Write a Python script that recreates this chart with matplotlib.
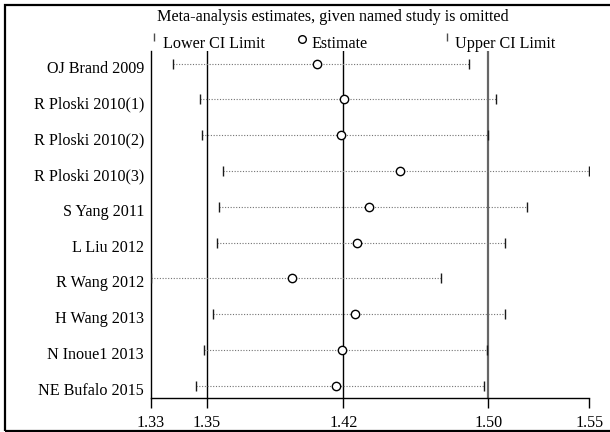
import matplotlib
matplotlib.use("Agg")
import matplotlib.pyplot as plt
import matplotlib.transforms as mtransforms
from matplotlib.patches import Rectangle
from matplotlib.lines import Line2D

studies = ["OJ Brand 2009", "R Ploski 2010(1)", "R Ploski 2010(2)", "R Ploski 2010(3)",
           "S Yang 2011", "L Liu 2012", "R Wang 2012", "H Wang 2013",
           "N Inoue1 2013", "NE Bufalo 2015"]
estimate = [1.4093, 1.4230, 1.4215, 1.4510, 1.4356, 1.4297, 1.3967, 1.4287, 1.4220, 1.4192]
lower_ci = [1.3369, 1.3508, 1.3515, 1.3620, 1.3602, 1.3593, 1.3260, 1.3573, 1.3526, 1.3488]
upper_ci = [1.4859, 1.4993, 1.4953, 1.5464, 1.5152, 1.5041, 1.4717, 1.5041, 1.4949, 1.4933]
overall = [1.3540, 1.4227, 1.4956]  # lower, estimate, upper

plt.rcParams['font.family'] = ['Liberation Serif', 'DejaVu Serif']
FS = 11.6

fig = plt.figure(figsize=(6.1, 4.32), dpi=100)
ax = fig.add_axes([151/610, 1-398/432, (589.3-151)/610, (398-51)/432])

n = len(studies)
ypos = list(range(1, n + 1))
xmin = min(lower_ci)
xmax = max(upper_ci)

# overall reference lines
ax.axvline(overall[0], color='black', lw=1.0, zorder=1)
ax.axvline(overall[1], color='black', lw=1.0, zorder=1)
ax.axvline(overall[2], color='0.4', lw=1.6, zorder=1)

for y, lo, est, hi in zip(ypos, lower_ci, estimate, upper_ci):
    ax.plot([lo, hi], [y, y], linestyle=(0, (1, 1.5)), color='0.45', lw=0.8, zorder=2)
ax.plot(lower_ci, ypos, linestyle='none', marker='|', markersize=7, mew=1.0, color='0.1', zorder=3)
ax.plot(upper_ci, ypos, linestyle='none', marker='|', markersize=7, mew=1.0, color='0.1', zorder=3)
ax.plot(estimate, ypos, linestyle='none', marker='o', markersize=6, mfc='white', mec='black', mew=1.0, zorder=4)

ax.set_xlim(xmin, xmax)
ax.set_ylim(n + 0.34, 0.65)
ticks = [xmin, overall[0], overall[1], overall[2], xmax]
ax.set_xticks(ticks)
ax.set_xticklabels([f"{t:.2f}" for t in ticks], fontsize=FS)
ax.tick_params(axis='x', direction='out', length=7, width=1, pad=5)
ax.set_yticks(ypos)
ax.set_yticklabels(studies, fontsize=FS)
ax.tick_params(axis='y', length=0, pad=5)
offset = mtransforms.ScaledTranslation(0, -3/100, fig.dpi_scale_trans)
for lab in ax.get_yticklabels():
    lab.set_transform(lab.get_transform() + offset)
ax.spines['top'].set_visible(False)
ax.spines['right'].set_visible(False)
ax.spines['left'].set_linewidth(1.0)
ax.spines['bottom'].set_linewidth(1.0)

# legend / header
fig.text(333/610, 1-17/432, "Meta-analysis estimates, given named study is omitted",
         ha='center', va='center', fontsize=FS)
ly = 1 - 44/432
fig.add_artist(Line2D([154.3/610], [1-37/432], marker='|', markersize=6, mew=1.0,
                      color='0.3', linestyle='none', transform=fig.transFigure))
fig.text(163/610, ly, "Lower CI Limit", ha='left', va='center', fontsize=FS)
fig.add_artist(Line2D([302.3/610], [1-39/432], marker='o', markersize=5.5, mew=1.0,
                      mfc='white', mec='black', linestyle='none', transform=fig.transFigure))
fig.text(311.5/610, ly, "Estimate", ha='left', va='center', fontsize=FS)
fig.add_artist(Line2D([446.7/610], [1-37/432], marker='|', markersize=6, mew=1.0,
                      color='0.3', linestyle='none', transform=fig.transFigure))
fig.text(455/610, ly, "Upper CI Limit", ha='left', va='center', fontsize=FS)

# outer frame
fig.add_artist(Rectangle((5/610, 1-431/432), 700/610, (431-5)/432, fill=False,
                         edgecolor='black', lw=1.6, transform=fig.transFigure))

fig.savefig("out.png", dpi=100)
